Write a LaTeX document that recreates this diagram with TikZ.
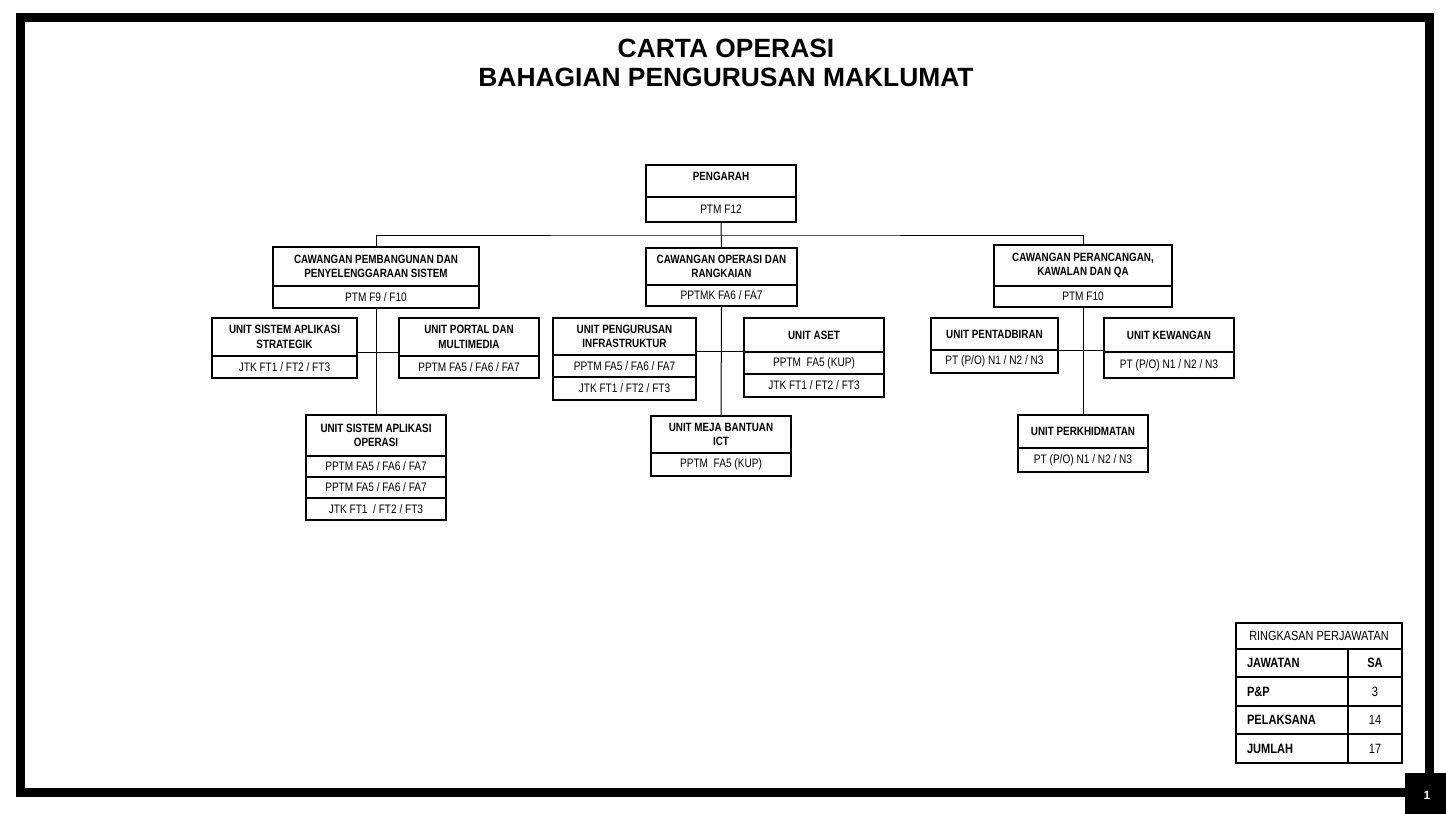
\documentclass[tikz,border=0pt]{standalone}
\usepackage{fontspec}
\setmainfont{Liberation Sans}
\newfontfamily\narrow{Liberation Sans}[FakeStretch=0.82]
\usetikzlibrary{positioning,calc}

\begin{document}
\begin{tikzpicture}[x=1pt, y=-1pt,
        every node/.style={font=\narrow\fontsize{12.3}{14.5}\selectfont, align=center, inner sep=0pt, outer sep=0pt},
        head/.style={draw, line width=1.3pt, anchor=north west, font=\narrow\bfseries\fontsize{12}{14.5}\selectfont},
        grade/.style={draw, line width=1.3pt, anchor=north},
        link/.style={draw, line width=1pt},
        lcell/.style={draw, line width=1.3pt, anchor=north west, align=left, text width=90pt, inner xsep=11pt, font=\narrow\bfseries\fontsize{13.5}{15}\selectfont},
        rcell/.style={draw, line width=1.3pt, anchor=north west, minimum width=54pt, font=\narrow\fontsize{13.5}{15}\selectfont}
      ]
      \useasboundingbox (0,0) rectangle (1446,814);
      % frame and page number
      \draw[line width=9pt] (20.5,17.5) rectangle (1429.5,792.5);
      \fill (1405,773) rectangle (1446,814);
      \node[text=white, font=\bfseries\fontsize{12}{14}\selectfont] (pgno) at (1427,795) {1};

      % title
      \node[font=\bfseries\fontsize{26.4}{30}\selectfont] (title) at (726,48.5) {CARTA OPERASI};
      \node[font=\bfseries\fontsize{26.4}{30}\selectfont] (subtitle) at (726,77) {BAHAGIAN PENGURUSAN MAKLUMAT};

      % pengarah
      \node[head, minimum width=150pt, minimum height=32pt, text depth=9pt] (pengarah) at (646,165) {PENGARAH};
      \node[grade, minimum width=150pt, minimum height=25pt] (pengarahG) at (pengarah.south) {PTM F12};

      % cawangan
      \node[head, minimum width=206pt, minimum height=39pt] (pemb) at (273,247) {CAWANGAN PEMBANGUNAN DAN\\PENYELENGGARAAN SISTEM};
      \node[grade, minimum width=206pt, minimum height=22pt] (pembG) at (pemb.south) {PTM F9 / F10};
      \node[head, minimum width=151pt, minimum height=37pt] (ops) at (646,248) {CAWANGAN OPERASI DAN\\RANGKAIAN};
      \node[grade, minimum width=151pt, minimum height=21pt] (opsG) at (ops.south) {PPTMK FA6 / FA7};
      \node[head, minimum width=178pt, minimum height=41pt] (ranc) at (994,245) {CAWANGAN PERANCANGAN,\\KAWALAN DAN QA};
      \node[grade, minimum width=178pt, minimum height=21pt] (rancG) at (ranc.south) {PTM F10};

      % units under pembangunan
      \node[head, minimum width=145pt, minimum height=38pt] (strat) at (212,318) {UNIT SISTEM APLIKASI\\STRATEGIK};
      \node[grade, minimum width=145pt, minimum height=22pt] (stratG) at (strat.south) {JTK FT1 / FT2 / FT3};
      \node[head, minimum width=140pt, minimum height=38pt] (portal) at (399,318) {UNIT PORTAL DAN\\MULTIMEDIA};
      \node[grade, minimum width=140pt, minimum height=22pt] (portalG) at (portal.south) {PPTM FA5 / FA6 / FA7};
      \node[head, minimum width=140pt, minimum height=41pt] (oprapp) at (306,415) {UNIT SISTEM APLIKASI\\OPERASI};
      \node[grade, minimum width=140pt, minimum height=21pt] (oprappA) at (oprapp.south) {PPTM FA5 / FA6 / FA7};
      \node[grade, minimum width=140pt, minimum height=21pt] (oprappB) at (oprappA.south) {PPTM FA5 / FA6 / FA7};
      \node[grade, minimum width=140pt, minimum height=22pt] (oprappC) at (oprappB.south) {JTK FT1\ \ / FT2 / FT3};

      % units under operasi
      \node[head, minimum width=143pt, minimum height=37pt] (infra) at (553,318) {UNIT PENGURUSAN\\INFRASTRUKTUR};
      \node[grade, minimum width=143pt, minimum height=22pt] (infraA) at (infra.south) {PPTM FA5 / FA6 / FA7};
      \node[grade, minimum width=143pt, minimum height=23pt] (infraB) at (infraA.south) {JTK FT1 / FT2 / FT3};
      \node[head, minimum width=140pt, minimum height=34pt] (aset) at (744,318) {UNIT ASET};
      \node[grade, minimum width=140pt, minimum height=22pt] (asetA) at (aset.south) {PPTM\ \ FA5 (KUP)};
      \node[grade, minimum width=140pt, minimum height=23pt] (asetB) at (asetA.south) {JTK FT1 / FT2 / FT3};
      \node[head, minimum width=140pt, minimum height=37pt] (meja) at (651,416) {UNIT MEJA BANTUAN\\ICT};
      \node[grade, minimum width=140pt, minimum height=23pt] (mejaG) at (meja.south) {PPTM\ \ FA5 (KUP)};

      % units under perancangan
      \node[head, minimum width=127pt, minimum height=32pt] (pentad) at (931,318) {UNIT PENTADBIRAN};
      \node[grade, minimum width=127pt, minimum height=23pt] (pentadG) at (pentad.south) {PT (P/O) N1 / N2 / N3};
      \node[head, minimum width=130pt, minimum height=34pt] (kewangan) at (1104,318) {UNIT KEWANGAN};
      \node[grade, minimum width=130pt, minimum height=26pt] (kewanganG) at (kewangan.south) {PT (P/O) N1 / N2 / N3};
      \node[head, minimum width=130pt, minimum height=33pt] (perkh) at (1018,415) {UNIT PERKHIDMATAN};
      \node[grade, minimum width=130pt, minimum height=24pt] (perkhG) at (perkh.south) {PT (P/O) N1 / N2 / N3};

      % connectors
      \coordinate (bus) at (721,235);
      \draw[link] (pengarahG.south) -- (ops.north);
      \draw[link] (pemb.north) |- (bus) -| (ranc.north);
      \draw[link] (pembG.south) -- (oprapp.north);
      \coordinate (stratJ) at ([yshift=4pt]strat.south east);
      \draw[link] (stratJ) -- (stratJ -| portal.west);
      \draw[link] (opsG.south) -- (meja.north);
      \coordinate (infraJ) at ([yshift=4pt]infra.south east);
      \draw[link] (infraJ) -- (infraJ -| aset.west);
      \draw[link] (rancG.south) -- (perkh.north);
      \draw[link] (pentad.south east) -- (pentad.south east -| kewangan.west);

      % summary table
      \node[draw, line width=1.3pt, anchor=north west, minimum width=166pt, minimum height=26pt, font=\narrow\fontsize{13.3}{15}\selectfont] (sumT) at (1236,623) {RINGKASAN PERJAWATAN};
      \node[lcell, minimum height=28pt] (jaw) at (sumT.south west) {JAWATAN};
      \node[rcell, minimum height=28pt, font=\narrow\bfseries\fontsize{13.5}{15}\selectfont] (jawN) at (jaw.north east) {SA};
      \node[lcell, minimum height=29pt] (pnp) at (jaw.south west) {P\&P};
      \node[rcell, minimum height=29pt] (pnpN) at (pnp.north east) {3};
      \node[lcell, minimum height=28pt] (pel) at (pnp.south west) {PELAKSANA};
      \node[rcell, minimum height=28pt] (pelN) at (pel.north east) {14};
      \node[lcell, minimum height=29pt] (jum) at (pel.south west) {JUMLAH};
      \node[rcell, minimum height=29pt] (jumN) at (jum.north east) {17};
    \end{tikzpicture}
\end{document}
